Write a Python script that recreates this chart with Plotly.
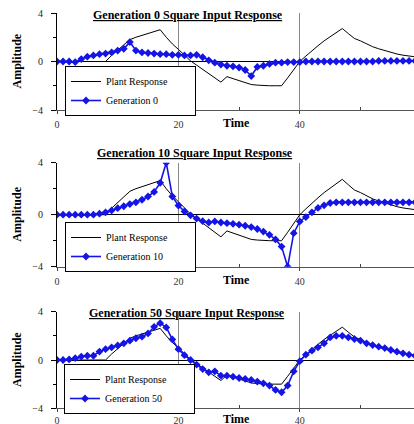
import plotly.graph_objects as go

t = list(range(61))

plant = [0, 0, 0, 0, 0, 0, 0, 0, 0, 0.5, 0.95, 1.4, 1.8, 2.0, 2.15, 2.3, 2.45, 2.62, 2.0, 1.45,
         1.0, 0.5, 0.05, -0.3, -0.65, -1.0, -1.35, -1.7, -1.25, -1.4, -1.55, -1.75, -1.9, -1.95, -2.0,
         -2.0, -2.0, -2.0, -1.35, -0.65, 0.0, 0.45, 0.9, 1.3, 1.7, 2.05, 2.4, 2.72, 2.3, 1.9,
         1.7, 1.45, 1.22, 1.05, 0.9, 0.72, 0.62, 0.52, 0.44, 0.37, 0.32]

gen0 = [0, 0, 0, -0.05, 0.2, 0.4, 0.5, 0.6, 0.65, 0.75, 0.9, 1.05, 1.6, 0.9, 0.75, 0.7, 0.65, 0.6,
        0.6, 0.55, 0.55, 0.5, 0.5, 0.55, 0.35, 0.1, -0.1, -0.25, -0.35, -0.4, -0.5, -0.7, -1.2,
        -0.45, -0.35, -0.2, -0.1, -0.1, -0.05, -0.05, -0.05,
        0, 0, 0, 0, 0, 0, 0, 0, 0, 0, 0, 0,
        0.05, 0.05, 0.05, 0.05, 0.05, 0.05, 0.05, 0.05]

gen10 = [0, 0, 0, 0, 0, 0, 0, 0.08, 0.18, 0.33, 0.5, 0.65, 0.82, 0.95, 1.15, 1.4, 1.75, 2.45, 4.0,
         1.4, 0.7, 0.25, -0.05, -0.3, -0.5, -0.6, -0.52, -0.6, -0.65, -0.7, -0.77, -0.85, -0.95,
         -1.1, -1.3, -1.55, -1.9, -2.45, -4.0, -1.42, -0.52, -0.18, 0.18, 0.52, 0.72, 0.9,
         0.95, 0.95, 0.95, 0.95, 0.95, 0.95, 0.95, 0.95, 0.95, 0.95, 0.95, 0.95, 0.95, 0.95, 0.95]

gen50 = [0, 0, 0.05, 0.15, 0.28, 0.35, 0.35, 0.7, 0.9, 1.05, 1.2, 1.38, 1.6, 1.8, 1.93, 2.2, 2.75,
         3.05, 2.7, 1.7, 0.9, 0.4, 0.0, -0.38, -0.75, -1.02, -0.94, -1.3, -1.3, -1.38, -1.49,
         -1.57, -1.65, -1.79, -1.93, -2.12, -2.48, -2.67, -2.12, -0.94, -0.1, 0.44, 0.77, 1.05,
         1.38, 1.87, 2.0, 2.0, 1.87, 1.74, 1.6, 1.38, 1.24, 1.1, 0.99, 0.83, 0.69, 0.55, 0.44,
         0.35, 0.28]

gens = [("Generation 0", gen0), ("Generation 10", gen10), ("Generation 50", gen50)]
titles = ["Generation 0 Square Input Response", "Generation 10 Square Input Response",
          "Generation 50 Square Input Response"]

x_ticks = [0, 20, 40, 60]
y_ticks = [-4, 0, 4]

W, H = 414, 424
FONT = "Liberation Serif"
BLUE = "#1414e6"
PAD = "\u00a0" * 9  # invisible padding to widen the legend boxes

# panel pixel geometry (top pixel of y=4, bottom pixel of y=-4)
panels = [(13, 110), (162.7, 266.7), (311.7, 408.3)]
x_left = 57
px_per_unit = 6.07
x_max = (W - x_left) / px_per_unit

title_y = [15, 153, 313]
title_x = [188, 195, 187]
legend_pos = [(65, 66), (65, 222), (64, 364)]
label_standoff = [2, 2, 0]
time_gap = [13, 13, 11]

fig = go.Figure()
annotations = []
for i, (name, vals) in enumerate(gens):
    ax = "" if i == 0 else str(i + 1)
    leg = "legend" if i == 0 else f"legend{i + 1}"
    fig.add_trace(go.Scatter(x=t, y=plant, mode="lines", name="Plant Response" + PAD,
                             line=dict(color="black", width=1),
                             xaxis="x" + ax, yaxis="y" + ax, legend=leg))
    fig.add_trace(go.Scatter(x=t, y=vals, mode="lines+markers", name=name,
                             line=dict(color=BLUE, width=1.6),
                             marker=dict(color=BLUE, size=6, symbol="diamond"),
                             xaxis="x" + ax, yaxis="y" + ax, legend=leg))
    top, bot = panels[i]
    ydom = [1 - bot / H, 1 - top / H]
    xa = dict(domain=[x_left / W, 1], range=[0, x_max], anchor="y" + ax,
              tickvals=x_ticks, ticks="outside", ticklen=3, tickcolor="#444",
              showline=True, linecolor="#555", linewidth=1,
              showgrid=True, gridcolor="#888", gridwidth=1,
              zeroline=False, automargin=False,
              minor=dict(tickvals=[10, 30, 50], ticks="inside", ticklen=3, tickcolor="#444",
                         showgrid=False),
              tickfont=dict(family=FONT, size=10, color="#333"),
              ticklabelstandoff=label_standoff[i], fixedrange=True)
    ya = dict(domain=ydom, range=[-4, 4], anchor="x" + ax,
              tickvals=y_ticks, ticks="outside", ticklen=5, tickcolor="black",
              showline=True, linecolor="black", linewidth=1,
              showgrid=False, zeroline=True, zerolinecolor="black", zerolinewidth=1,
              automargin=False,
              minor=dict(tickvals=[-2, 2], ticks="outside", ticklen=3, tickcolor="black"),
              tickfont=dict(family=FONT, size=10, color="#222"),
              ticklabelstandoff=6, fixedrange=True)
    fig.layout["xaxis" + ax] = xa
    fig.layout["yaxis" + ax] = ya

    lx, ly = legend_pos[i]
    fig.layout[leg] = dict(x=lx / W, y=1 - ly / H, xanchor="left", yanchor="top",
                           bgcolor="white", bordercolor="black", borderwidth=1,
                           font=dict(family=FONT, size=10, color="black"),
                           itemwidth=30, tracegroupgap=0)

    annotations.append(dict(text="<b><u>" + titles[i] + "</u></b>", xref="paper", yref="paper",
                            x=title_x[i] / W, y=1 - title_y[i] / H, showarrow=False,
                            xanchor="center", yanchor="middle",
                            font=dict(family=FONT, size=12, color="black")))
    annotations.append(dict(text="<b>Amplitude</b>", xref="paper", yref="paper",
                            x=17 / W, y=1 - ((top + bot) / 2) / H, showarrow=False,
                            textangle=-90, xanchor="center", yanchor="middle",
                            font=dict(family=FONT, size=12, color="black")))
    annotations.append(dict(text="<b>Time</b>", xref="paper", yref="paper",
                            x=236 / W, y=1 - (bot + time_gap[i]) / H, showarrow=False,
                            xanchor="center", yanchor="middle",
                            font=dict(family=FONT, size=12, color="black")))

fig.update_layout(width=W, height=H, margin=dict(l=0, r=0, t=0, b=0, autoexpand=False),
                  paper_bgcolor="white", plot_bgcolor="white", showlegend=True,
                  annotations=annotations)

fig.write_html("out.html", config={"displayModeBar": False},
               post_script="document.body.style.margin='0';document.body.style.padding='0';")
